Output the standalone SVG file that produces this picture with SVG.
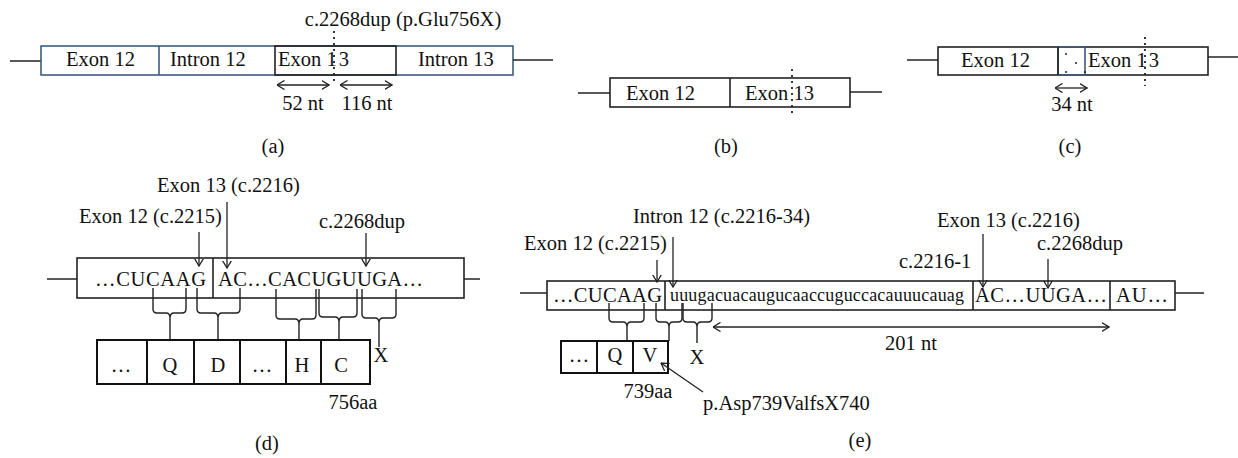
<svg xmlns="http://www.w3.org/2000/svg" width="1238" height="458" viewBox="0 0 1238 458">
<style>
.t{font-family:"Liberation Serif","Times New Roman",serif;font-size:20.5px;fill:#111}
.s{font-size:18px}
.m{text-anchor:middle}
.box{fill:none;stroke:#222;stroke-width:1.6}
.bb{fill:none;stroke:#3d5d80;stroke-width:1.6}
.ln{stroke:#222;stroke-width:1.5;fill:none}
.pb{fill:none;stroke:#111;stroke-width:2}
.dot{stroke:#222;stroke-width:1.8;stroke-dasharray:2,4;fill:none}
.br{fill:none;stroke:#222;stroke-width:1.4}
.ar{stroke:#222;stroke-width:1.3;fill:none;marker-end:url(#ah)}
.da{stroke:#222;stroke-width:1.3;fill:none;marker-end:url(#ah);marker-start:url(#ah)}
</style>
<defs>
<marker id="ah" viewBox="0 0 8 10" refX="7.5" refY="5" markerWidth="8" markerHeight="10" markerUnits="userSpaceOnUse" orient="auto-start-reverse">
<path d="M0,0.5 L7.5,5 L0,9.5" fill="none" stroke="#222" stroke-width="1.3"/>
</marker>
</defs>

<g id="panel-a">
<line class="ln" x1="10" y1="61" x2="41" y2="61"/>
<rect class="bb" x="41" y="46" width="472" height="29"/>
<line class="bb" x1="159" y1="46" x2="159" y2="75"/>
<rect class="box" x="275" y="46" width="121" height="29"/>
<line class="ln" x1="513" y1="60" x2="553" y2="60"/>
<line class="dot" x1="334" y1="31" x2="334" y2="85"/>
<text class="t" x="66" y="66">Exon 12</text>
<text class="t" x="170" y="66">Intron 12</text>
<text class="t" x="278" y="66">Exon 1<tspan dx="2">3</tspan></text>
<text class="t" x="418" y="66">Intron 13</text>
<text class="t m" x="403" y="26">c.2268dup (p.Glu756X)</text>
<line class="da" x1="277" y1="85" x2="329" y2="85"/>
<line class="da" x1="340" y1="85" x2="392" y2="85"/>
<text class="t m" x="303" y="110">52 nt</text>
<text class="t m" x="367" y="110">116 nt</text>
<text class="t m" x="273" y="153">(a)</text>
</g>

<g id="panel-b">
<line class="ln" x1="578" y1="93" x2="610" y2="93"/>
<rect class="box" x="610" y="78" width="240" height="29"/>
<line class="box" x1="730" y1="78" x2="730" y2="107"/>
<line class="ln" x1="850" y1="92" x2="882" y2="92"/>
<line class="dot" x1="792" y1="69" x2="792" y2="117"/>
<text class="t" x="626" y="100">Exon 12</text>
<text class="t" x="745" y="100">Exon 13</text>
<text class="t m" x="726" y="153">(b)</text>
</g>

<g id="panel-c">
<line class="ln" x1="907" y1="60" x2="938" y2="60"/>
<rect class="box" x="938" y="47" width="270" height="28"/>
<rect class="bb" x="1058" y="47" width="27" height="28"/>
<line class="box" x1="1058" y1="47" x2="1058" y2="75"/>
<circle cx="1066" cy="54" r="1" fill="#222"/>
<circle cx="1076" cy="63" r="1" fill="#222"/>
<circle cx="1066" cy="72" r="1" fill="#222"/>
<circle cx="1085" cy="72" r="1" fill="#222"/>
<line class="ln" x1="1208" y1="57" x2="1238" y2="57"/>
<line class="dot" x1="1145" y1="37" x2="1145" y2="86"/>
<text class="t" x="961" y="67">Exon 12</text>
<text class="t" x="1088" y="67">Exon 1<tspan dx="2">3</tspan></text>
<line class="da" x1="1055" y1="88" x2="1087" y2="88"/>
<text class="t m" x="1072" y="111">34 nt</text>
<text class="t m" x="1070" y="153">(c)</text>
</g>

<g id="panel-d">
<line class="ln" x1="47" y1="279" x2="77" y2="279"/>
<rect class="box" x="77" y="258" width="387" height="40"/>
<line class="box" x1="213" y1="258" x2="213" y2="298"/>
<line class="ln" x1="464" y1="279" x2="480" y2="279"/>
<text class="t" x="95" y="286" textLength="111" lengthAdjust="spacing">…CUCAAG</text>
<text class="t" x="218" y="286" textLength="205" lengthAdjust="spacing">AC…CACUGUUGA…</text>
<rect class="pb" x="97" y="340" width="273" height="44"/>
<path class="pb" d="M147,340V384M194,340V384M240,340V384M286,340V384M321,340V384"/>
<text class="t m" x="121" y="372">…</text>
<text class="t m" x="170" y="372">Q</text>
<text class="t m" x="218" y="372">D</text>
<text class="t m" x="262" y="372">…</text>
<text class="t m" x="302" y="372">H</text>
<text class="t m" x="341" y="372">C</text>
<text class="t m" x="381" y="362">X</text>
<text class="t m" x="353" y="409">756aa</text>
<text class="t" x="157" y="192">Exon 13 (c.2216)</text>
<text class="t" x="79" y="223">Exon 12 (c.2215)</text>
<text class="t" x="319" y="228">c.2268dup</text>
<line class="ar" x1="199" y1="232" x2="199" y2="266"/>
<line class="ar" x1="227" y1="202" x2="227" y2="268"/>
<line class="ar" x1="366" y1="233" x2="366" y2="266"/>
<text class="t m" x="267" y="450">(d)</text>
</g>

<g id="panel-e">
<line class="ln" x1="520" y1="293" x2="547" y2="293"/>
<rect class="box" x="547" y="281" width="628" height="29"/>
<path class="box" d="M665,281V310M973,281V310M1110,281V310"/>
<line class="ln" x1="1175" y1="293" x2="1204" y2="293"/>
<text class="t" x="553" y="302" textLength="109" lengthAdjust="spacing">…CUCAAG</text>
<text class="t s" x="670" y="301" textLength="294" lengthAdjust="spacing">uuugacuacaugucaaccuguccacauuucauag</text>
<text class="t" x="975" y="302" textLength="132" lengthAdjust="spacing">AC…UUGA…</text>
<text class="t" x="1116" y="302" textLength="52" lengthAdjust="spacing">AU…</text>
<rect class="pb" x="561" y="341" width="107" height="32"/>
<path class="pb" d="M597,341V373M633,341V373"/>
<text class="t m" x="579" y="362">…</text>
<text class="t m" x="615" y="362">Q</text>
<text class="t m" x="650" y="362">V</text>
<text class="t m" x="697" y="364">X</text>
<text class="t m" x="648" y="398">739aa</text>
<text class="t" x="703" y="410">p.Asp739ValfsX740</text>
<text class="t" x="633" y="223">Intron 12 (c.2216-34)</text>
<text class="t" x="524" y="250">Exon 12 (c.2215)</text>
<text class="t" x="937" y="227">Exon 13 (c.2216)</text>
<text class="t" x="1037" y="250">c.2268dup</text>
<text class="t" x="899" y="268">c.2216-1</text>
<text class="t" x="885" y="350">201 nt</text>
<text class="t m" x="860" y="447">(e)</text>
</g>

<g id="connectors">
<path class="br" d="M153,288V309Q153,313 157,313H166Q170,313 170,318V340M186,288V309Q186,313 182,313H174Q170,313 170,318"/>
<path class="br" d="M197,288V309Q197,313 201,313H214Q218,313 218,318V340M240,288V309Q240,313 236,313H222Q218,313 218,318"/>
<path class="br" d="M276,289V315Q276,319 280,319H295Q299,319 299,324V340M316,289V315Q316,319 312,319H303Q299,319 299,324"/>
<path class="br" d="M319,289V313Q319,317 323,317H335Q339,317 339,322V340M357,289V313Q357,317 353,317H343Q339,317 339,322"/>
<path class="br" d="M362,289V314Q362,318 366,318H375Q379,318 379,323V347M396,289V314Q396,318 392,318H383Q379,318 379,323"/>
<path class="br" d="M609,303V318Q609,322 613,322H623Q627,322 627,327V341M644,303V318Q644,322 640,322H631Q627,322 627,327"/>
<path class="br" d="M656,303V318Q656,322 660,322H665Q669,322 669,327V341M682,303V318Q682,322 678,322H673Q669,322 669,327"/>
<path class="br" d="M683,303V318Q683,322 687,322H693Q697,322 697,327V343M712,303V318Q712,322 708,322H701Q697,322 697,327"/>
<line class="ar" x1="657" y1="260" x2="657" y2="282"/>
<line class="ar" x1="673" y1="237" x2="673" y2="287"/>
<line class="ar" x1="983" y1="234" x2="983" y2="287"/>
<line class="ar" x1="1048" y1="259" x2="1048" y2="288"/>
<line class="da" x1="713" y1="327" x2="1109" y2="327"/>
<line class="ar" x1="703" y1="392" x2="661" y2="363"/>
</g>
</svg>
